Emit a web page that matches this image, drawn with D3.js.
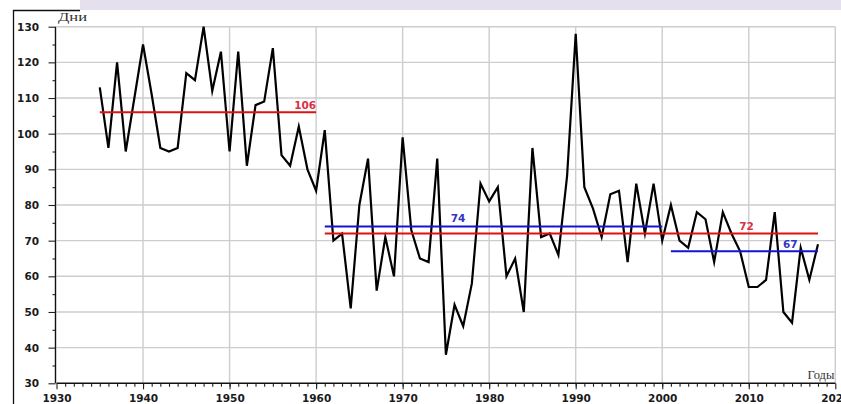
<!DOCTYPE html>
<html>
<head>
<meta charset="utf-8">
<script src="https://cdn.jsdelivr.net/npm/d3@7/dist/d3.min.js"></script>
<style>
  html, body { margin: 0; padding: 0; background: #fff; }
  svg { display: block; }
</style>
</head>
<body>
<svg id="chart" width="841" height="404"></svg>
<script>
// Число дней по годам
const years = [
  1935, 1936, 1937, 1938, 1939, 1940, 1941, 1942, 1943, 1944,
  1945, 1946, 1947, 1948, 1949, 1950, 1951, 1952, 1953, 1954,
  1955, 1956, 1957, 1958, 1959, 1960, 1961, 1962, 1963, 1964,
  1965, 1966, 1967, 1968, 1969, 1970, 1971, 1972, 1973, 1974,
  1975, 1976, 1977, 1978, 1979, 1980, 1981, 1982, 1983, 1984,
  1985, 1986, 1987, 1988, 1989, 1990, 1991, 1992, 1993, 1994,
  1995, 1996, 1997, 1998, 1999, 2000, 2001, 2002, 2003, 2004,
  2005, 2006, 2007, 2008, 2009, 2010, 2011, 2012, 2013, 2014,
  2015, 2016, 2017, 2018
];
const days = [
  113, 96, 120, 95, 110, 125, 111, 96, 95, 96,
  117, 115, 130, 112, 123, 95, 123, 91, 108, 109,
  124, 94, 91, 102, 90, 84, 101, 70, 72, 51,
  80, 93, 56, 71, 60, 99, 73, 65, 64, 93,
  38, 52, 46, 58, 86, 81, 85, 60, 65, 50,
  96, 71, 72, 66, 88, 128, 85, 79, 71, 83,
  84, 64, 86, 72, 86, 70, 80, 70, 68, 78,
  76, 64, 78, 72, 67, 57, 57, 59, 78, 50,
  47, 68, 59, 69
];

// Средние значения по периодам
const meanFrom  = [1935, 1961, 1961, 2001];
const meanTo    = [1960, 2000, 2018, 2018];
const meanValue = [106, 74, 72, 67];

// Подписи осей
const xTicks = [1930, 1940, 1950, 1960, 1970, 1980, 1990, 2000, 2010, 2020];
const yTicks = [30, 40, 50, 60, 70, 80, 90, 100, 110, 120, 130];
const yTitle = "Дни";
const xTitle = "Годы";

// Оформление линий средних
const meanStyle = [
  { line: "#e01010", text: "#d83048", anchor: "end",    at: 1960,   dy: -3 },
  { line: "#1414d2", text: "#3434c4", anchor: "middle", at: 1976.4, dy: -4 },
  { line: "#e01010", text: "#d83048", anchor: "start",  at: 2008.9, dy: -4 },
  { line: "#1414d2", text: "#3434c4", anchor: "middle", at: 2014.8, dy: -3 }
];

const svg = d3.select("#chart");

// Рамка и полоса сверху
svg.append("rect").attr("x", 80).attr("y", 0).attr("width", 761).attr("height", 10)
  .attr("fill", "#e4e0ee");
svg.append("path").attr("d", "M13.5,404 V10.5 H80")
  .attr("fill", "none").attr("stroke", "#111").attr("stroke-width", 1.3);

const x = d3.scaleLinear().domain([1930, 2020]).range([56.5, 835.3]);
const y = d3.scaleLinear().domain([30, 130]).range([383.3, 26.7]);

const grid = svg.append("g").attr("stroke", "#cdcdcd").attr("stroke-width", 1.4);
grid.selectAll("line.h").data(yTicks.filter(v => v > 30)).join("line")
  .attr("class", "h")
  .attr("x1", x(1930)).attr("x2", x(2020))
  .attr("y1", d => y(d)).attr("y2", d => y(d));
grid.selectAll("line.v").data(xTicks.filter(v => v > 1930)).join("line")
  .attr("class", "v")
  .attr("y1", y(30)).attr("y2", y(130))
  .attr("x1", d => x(d)).attr("x2", d => x(d));

const tickFont = "'DejaVu Sans', Verdana, sans-serif";

// Ось Y: мелкие и основные деления
const yMinor = svg.append("g").attr("transform", `translate(${x(1930) - 1},0)`)
  .call(d3.axisLeft(y).tickValues(d3.range(35, 130, 10)).tickSize(3).tickFormat(""));
const yAxis = svg.append("g").attr("transform", `translate(${x(1930) - 1},0)`)
  .call(d3.axisLeft(y).tickValues(yTicks).tickSize(7).tickPadding(9.5).tickFormat(d3.format("d")));

// Ось X: деления по годам и подписи десятилетий
const xMinor = svg.append("g").attr("transform", `translate(0,${y(30)})`)
  .call(d3.axisBottom(x).tickValues(d3.range(1931, 2020)).tickSize(3.5).tickFormat(""));
const xAxis = svg.append("g").attr("transform", `translate(0,${y(30)})`)
  .call(d3.axisBottom(x).tickValues(xTicks).tickSize(6).tickPadding(5).tickFormat(d3.format("d")));

[yMinor, yAxis, xMinor, xAxis].forEach(g => {
  g.select(".domain").attr("stroke", "#111").attr("stroke-width", 1.4);
  g.selectAll(".tick line").attr("stroke", "#222").attr("stroke-width", 1.1);
});
[yMinor, xMinor].forEach(g => g.select(".domain").remove());
yAxis.select(".domain").attr("d", `M0,${y(30)}V${y(130)}`);
xAxis.select(".domain").attr("d", `M${x(1930)},0H${x(2020)}`);
[yAxis, xAxis].forEach(g => g.selectAll(".tick text")
  .attr("font-family", tickFont).attr("font-weight", "bold")
  .attr("font-size", 10.5).attr("fill", "#1a1a1a"));

// Названия осей
svg.append("text").attr("x", x(1930) + 1.5).attr("y", 21)
  .attr("font-family", "'Liberation Serif', 'Times New Roman', serif")
  .attr("font-size", 12.5).attr("fill", "#333")
  .attr("textLength", 29).attr("lengthAdjust", "spacingAndGlyphs")
  .text(yTitle);
svg.append("text").attr("x", x(2020) - 1).attr("y", 379)
  .attr("text-anchor", "end")
  .attr("font-family", "'Liberation Serif', 'Times New Roman', serif")
  .attr("font-size", 12.5).attr("fill", "#333")
  .text(xTitle);

// Ряд наблюдений
const line = d3.line().x((d, i) => x(years[i])).y(d => y(d));
svg.append("path").datum(days)
  .attr("fill", "none").attr("stroke", "#000").attr("stroke-width", 2.2)
  .attr("stroke-linejoin", "miter").attr("stroke-miterlimit", 6)
  .attr("d", line);

// Линии средних значений с подписями
const means = svg.append("g");
meanValue.forEach((v, i) => {
  const s = meanStyle[i];
  means.append("line")
    .attr("x1", x(meanFrom[i])).attr("x2", x(meanTo[i]))
    .attr("y1", y(v)).attr("y2", y(v))
    .attr("stroke", s.line).attr("stroke-width", 2);
  means.append("text")
    .attr("x", x(s.at)).attr("y", y(v) + s.dy)
    .attr("text-anchor", s.anchor)
    .attr("font-family", tickFont).attr("font-weight", "bold")
    .attr("font-size", 10.5).attr("fill", s.text)
    .text(v);
});
</script>
</body>
</html>
